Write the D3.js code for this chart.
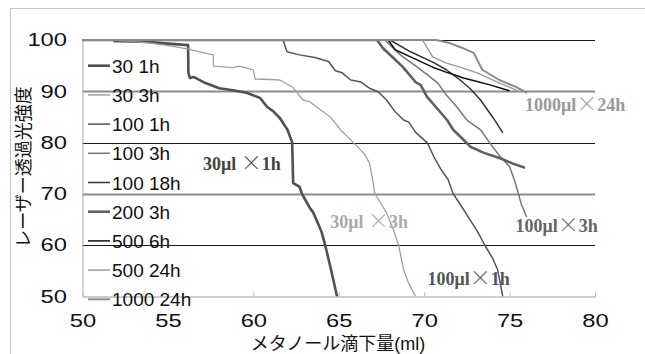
<!DOCTYPE html>
<html>
<head>
<meta charset="utf-8">
<script src="https://cdn.jsdelivr.net/npm/d3@7"></script>
<style>
  body { margin: 0; background: #fff; }
  svg { display: block; }
</style>
</head>
<body>
<svg id="chart" width="645" height="354"></svg>
<script>
// series names (legend order)
const seriesNames = ["30 1h", "30 3h", "100 1h", "100 3h", "100 18h", "200 3h", "500 6h", "500 24h", "1000 24h"];

// [methanol ml, laser transmittance]
const s30_1h = [[51.8,99.8],[52.8,99.7],[53.9,99.6],[55.0,99.3],[56.18,99.0],[56.2,93.5],[56.3,92.6],[56.5,92.8],[57.2,91.6],[58.0,90.6],[58.8,90.2],[59.6,89.7],[60.4,88.7],[60.8,87.0],[61.2,86.0],[61.55,84.8],[62.0,82.5],[62.27,80.1],[62.3,76.6],[62.33,72.1],[62.7,71.4],[62.85,70.0],[63.3,67.3],[63.5,66.4],[63.7,64.9],[64.0,62.5],[64.2,60.1],[64.55,55.2],[64.9,50.0]];
const s30_3h = [[51.8,100],[53.0,99.7],[54.0,99.4],[55.2,98.8],[56.2,98.2],[57.0,97.6],[57.65,97.1],[57.67,94.9],[58.8,94.6],[59.2,94.9],[60.0,94.2],[60.1,92.4],[61.0,92.3],[61.55,92.2],[62.3,90.8],[62.6,89.6],[62.9,88.3],[63.3,88.0],[63.6,87.2],[64.5,85.0],[65.1,82.5],[66.0,79.5],[66.5,77.8],[66.8,76.0],[67.0,72.5],[67.1,70.2],[67.8,66.3],[68.2,63.0],[68.5,60.1],[68.8,55.2],[69.1,52.5],[69.5,50.0]];
const s100_1h = [[50,100],[61.74,100],[61.97,97.7],[62.7,97.1],[63.6,96.6],[64.4,95.8],[64.8,94.0],[65.2,93.6],[65.7,92.2],[66.3,91.8],[66.8,90.6],[67.3,89.9],[67.8,88.3],[68.3,86.0],[68.8,84.4],[69.1,84.0],[69.5,82.0],[70.2,79.9],[70.6,77.0],[71.0,74.7],[71.4,72.8],[71.7,70.0],[72.2,67.5],[72.7,64.9],[73.1,62.8],[73.6,59.7],[74.0,57.5],[74.3,55.2],[74.6,50.0]];
const s100_3h = [[50,100],[67.7,100],[68.6,97.1],[69.4,95.2],[70.2,93.2],[70.8,91.6],[71.3,89.3],[71.9,87.0],[72.5,84.4],[73.3,82.5],[73.85,79.9],[74.4,77.5],[75.0,75.3],[75.3,72.5],[75.5,70.2],[75.7,67.9],[76.0,65.5]];
const s100_18h = [[50,100],[68.0,100],[69.2,97.7],[70.5,95.7],[71.3,94.2],[72.1,92.2],[72.7,90.5],[73.3,88.3],[74.0,85.0],[74.3,83.5],[74.6,81.9]];
const s200_3h = [[50,100],[67.24,100],[67.59,98.4],[68.2,96.5],[68.76,94.7],[69.5,91.8],[69.8,91.2],[70.17,88.9],[70.8,86.5],[71.34,84.4],[71.7,82.5],[72.2,80.9],[72.7,79.2],[73.5,78.0],[74.4,77.0],[75.2,75.9],[75.9,75.1]];
const s500_6h = [[50,100],[67.9,100],[68.3,98.1],[69.2,96.7],[70.5,94.7],[71.4,93.6],[72.3,92.6],[73.1,91.9],[73.9,91.2],[74.5,90.6],[75.0,90.1]];
const s500_24h = [[50,100],[69.9,100],[70.5,96.7],[71.3,95.5],[72.2,94.6],[73.1,93.6],[74.4,91.6],[75.0,90.8],[75.6,89.9]];
const s1000_24h = [[50,100],[70.7,100],[71.5,99.4],[72.2,98.5],[72.9,97.5],[73.4,94.2],[74.4,92.2],[75.4,90.8],[76.0,89.7]];

const seriesData = [s30_1h, s30_3h, s100_1h, s100_3h, s100_18h, s200_3h, s500_6h, s500_24h, s1000_24h];

const xTicks = [50, 55, 60, 65, 70, 75, 80];
const yTicks = [50, 60, 70, 80, 90, 100];

// annotation labels: [before ×, after ×], position [x (ml), y (baseline, %)]
const noteTexts = [["30μl ", "1h"], ["30μl ", "3h"], ["100μl", "1h"], ["100μl", "3h"], ["1000μl", "24h"]];
const notePos = [[57.05, 74.7], [64.5, 63.4], [70.2, 52.2], [75.35, 62.6], [75.9, 86.2]];

// styles
const lineColors = ["#505050", "#a0a0a0", "#555", "#777", "#333", "#606060", "#111", "#9a9a9a", "#8a8a8a"];
const lineWidths = [2.6, 1.3, 1.5, 1.5, 1.5, 2.6, 1.5, 1.4, 2];
const noteColors = ["#444", "#aaa", "#555", "#666", "#999"];
const sans = "'Liberation Sans', Arial, sans-serif";
const jp = "'Noto Sans CJK JP', sans-serif";

const svg = d3.select("#chart");
const margin = { top: 40, left: 82.5 };
const width = 512.5, height = 256.5;

// outer frame
svg.append("path")
  .attr("d", "M10.5,354V8.5H645")
  .attr("fill", "none")
  .attr("stroke", "#c4c4c4");

const g = svg.append("g").attr("transform", "translate(" + margin.left + "," + margin.top + ")");

const x = d3.scaleLinear().domain([50, 80]).range([0, width]);
const y = d3.scaleLinear().domain([50, 100]).range([height, 0]);

// gridlines
const gridColor = v => (v === 90 || v === 70) ? "#8c8c8c" : "#1a1a1a";
const gridWidth = v => (v === 90 || v === 70) ? 2 : 1;
g.selectAll(".grid")
  .data(yTicks.filter(v => v > 50))
  .enter().append("line")
  .attr("x1", 0).attr("x2", width)
  .attr("y1", d => Math.round(y(d)) + 0.5)
  .attr("y2", d => Math.round(y(d)) + 0.5)
  .attr("stroke", gridColor)
  .attr("stroke-width", gridWidth);

// y axis
const gy = g.append("g")
  .call(d3.axisLeft(y).tickValues(yTicks).tickSize(0).tickPadding(0));
gy.select(".domain").attr("stroke", "#aaa");
gy.selectAll("text")
  .attr("x", -12.4)
  .attr("dy", "0.3em")
  .attr("transform", "scale(1.25,1)")
  .style("font-family", sans)
  .style("font-size", "19px")
  .attr("fill", "#111");

// x axis
const gx = g.append("g")
  .attr("transform", "translate(0," + height + ")")
  .call(d3.axisBottom(x).tickValues(xTicks).tickSizeInner(-4).tickSizeOuter(0).tickPadding(17.5));
gx.select(".domain").attr("stroke", "#bbb").attr("stroke-width", 1.5);
gx.selectAll(".tick line").attr("stroke", "#bbb");
gx.selectAll("text")
  .attr("transform", "scale(1.25,1)")
  .style("font-family", sans)
  .style("font-size", "19px")
  .attr("fill", "#111");

// clip
svg.append("clipPath").attr("id", "plotClip")
  .append("rect").attr("x", 0).attr("y", -1).attr("width", width).attr("height", height + 1);

const line = d3.line()
  .x(d => x(d[0]))
  .y(d => y(d[1]));

g.append("g").attr("clip-path", "url(#plotClip)")
  .selectAll("path")
  .data(seriesData)
  .enter().append("path")
  .attr("fill", "none")
  .attr("stroke", (d, i) => lineColors[i])
  .attr("stroke-width", (d, i) => lineWidths[i])
  .attr("stroke-linejoin", "round")
  .attr("d", line);

// legend
const legend = g.append("g").attr("transform", "translate(5.5,25.7)");
const item = legend.selectAll("g")
  .data(seriesNames)
  .enter().append("g")
  .attr("transform", (d, i) => "translate(0," + (i * 29.2) + ")");
item.append("line")
  .attr("x1", 0).attr("x2", 22)
  .attr("stroke", (d, i) => lineColors[i])
  .attr("stroke-width", (d, i) => Math.max(lineWidths[i], 1.5));
item.append("text")
  .attr("x", 24)
  .attr("y", 7)
  .style("font-family", sans)
  .style("font-size", "19px")
  .attr("fill", "#111")
  .text(d => d);

// annotations (bold serif, with a wide thin ×)
const notes = g.selectAll(".note")
  .data(noteTexts)
  .enter().append("text")
  .attr("x", (d, i) => x(notePos[i][0]))
  .attr("y", (d, i) => y(notePos[i][1]))
  .style("font-family", "'Liberation Serif', 'Times New Roman', serif")
  .style("font-weight", "bold")
  .style("font-size", "18px")
  .attr("fill", (d, i) => noteColors[i]);
notes.append("tspan").text(d => d[0]);
notes.append("tspan")
  .style("font-family", jp)
  .style("font-weight", "300")
  .style("font-size", "21px")
  .text("×");
notes.append("tspan").text(d => d[1]);

// axis titles
svg.append("text")
  .attr("x", 338).attr("y", 350)
  .attr("text-anchor", "middle")
  .style("font-family", "'Liberation Sans', 'Noto Sans CJK JP', sans-serif")
  .style("font-size", "18px")
  .attr("fill", "#111")
  .text("メタノール滴下量(ml)");

svg.append("text")
  .attr("transform", "translate(30,167) rotate(-90)")
  .attr("text-anchor", "middle")
  .style("font-family", jp)
  .style("font-size", "18px")
  .attr("fill", "#111")
  .text("レーザー透過光強度");
</script>
</body>
</html>
